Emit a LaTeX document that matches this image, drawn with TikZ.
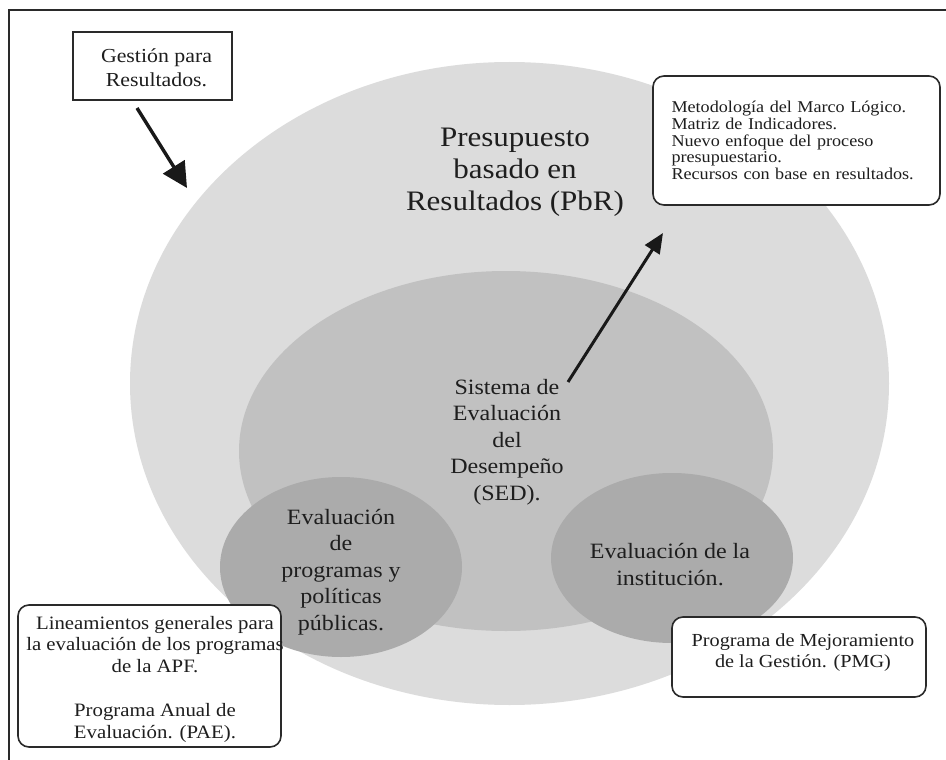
\documentclass[tikz,border=0pt]{standalone}
\usepackage{fontspec}
\setmainfont{Liberation Serif}[FakeStretch=1.1]
\usetikzlibrary{shapes.geometric,arrows.meta}
\definecolor{outerc}{HTML}{DCDCDC}
\definecolor{midc}{HTML}{C1C1C1}
\definecolor{smallc}{HTML}{ABABAB}
\definecolor{txt}{HTML}{1E1E1E}
\definecolor{lin}{HTML}{2A2A2A}
\newcommand\myfs[2]{\fontsize{#1}{#2}\selectfont}
\begin{document}
\begin{tikzpicture}[x=1pt,y=-1pt,
  blob/.style={ellipse, inner sep=0pt, draw=none},
  lbl/.style={align=center, text=txt, inner sep=0pt},
  boxsq/.style={draw=lin, line width=1.6pt, fill=white, inner sep=0pt},
  boxrd/.style={boxsq, rounded corners=11pt},
  bigarrow/.style={draw=black!90, line width=3.4pt, -{Triangle[length=25pt,width=25pt]}},
  medarrow/.style={draw=black!90, line width=3pt, -{Triangle[length=20pt,width=17pt]}}]
\useasboundingbox (0,0) rectangle (946,760);
\fill[white] (0,0) rectangle (946,760);
% ellipses
\node[blob, fill=outerc, minimum width=759pt, minimum height=643pt] (pbr) at (509.5,383.5) {};
\node[blob, fill=midc, minimum width=534pt, minimum height=360pt] (sed) at (506,451) {};
\node[blob, fill=smallc, minimum width=242pt, minimum height=180pt] (evp) at (341,567) {};
\node[blob, fill=smallc, minimum width=242pt, minimum height=170pt] (evi) at (672,558) {};
% ellipse texts
\node[lbl, font=\myfs{28.2}{32}] (pbrtext) at (515,172) {Presupuesto\\basado en\\Resultados (PbR)};
\node[lbl, font=\myfs{21.85}{26.4}] (sedtext) at (507,442) {Sistema de\\Evaluación\\del\\Desempeño\\(SED).};
\node[lbl, font=\myfs{21.85}{26.4}] (evptext) at (341,572) {Evaluación\\de\\programas y\\políticas\\públicas.};
\node[lbl, font=\myfs{21.85}{27}] (evitext) at (670,565) {Evaluación de la\\institución.};
% boxes
\node[boxsq, minimum width=159pt, minimum height=68pt] (gpr) at (152.5,66) {};
\node[lbl, font=\myfs{19.85}{24}] (gprtext) at (156.5,68) {Gestión para\\Resultados.};
\node[boxrd, minimum width=287pt, minimum height=129pt, text width=250pt, inner xsep=18.5pt, align=left, font=\myfs{16.5}{16.7}, text=txt] (mml) at (796.5,140.5) {Metodología del Marco Lógico.\\Matriz de Indicadores.\\Nuevo enfoque del proceso\\presupuestario.\\Recursos con base en resultados.};
\node[boxrd, minimum width=263pt, minimum height=142pt] (apf) at (149.5,676) {};
\node[lbl, font=\myfs{18.9}{21.8}] (apftext) at (155,679) {Lineamientos generales para\\la evaluación de los programas\\de la APF.\\[21.8pt]Programa Anual de\\Evaluación. (PAE).};
\node[boxrd, minimum width=254pt, minimum height=80pt] (pmg) at (799,657) {};
\node[lbl, font=\myfs{18.4}{21}] (pmgtext) at (803,653) {Programa de Mejoramiento\\de la Gestión. (PMG)};
% arrows
\coordinate (a1s) at (137,108);
\coordinate (a1e) at (187,188);
\draw[bigarrow] (a1s) -- (a1e);
\coordinate (a2s) at (568,382);
\coordinate (a2e) at (663,233);
\draw[medarrow] (a2s) -- (a2e);
% frame
\draw[draw=lin, line width=2pt] (960,10) -- (9,10) -- (9,770);
\end{tikzpicture}
\end{document}
